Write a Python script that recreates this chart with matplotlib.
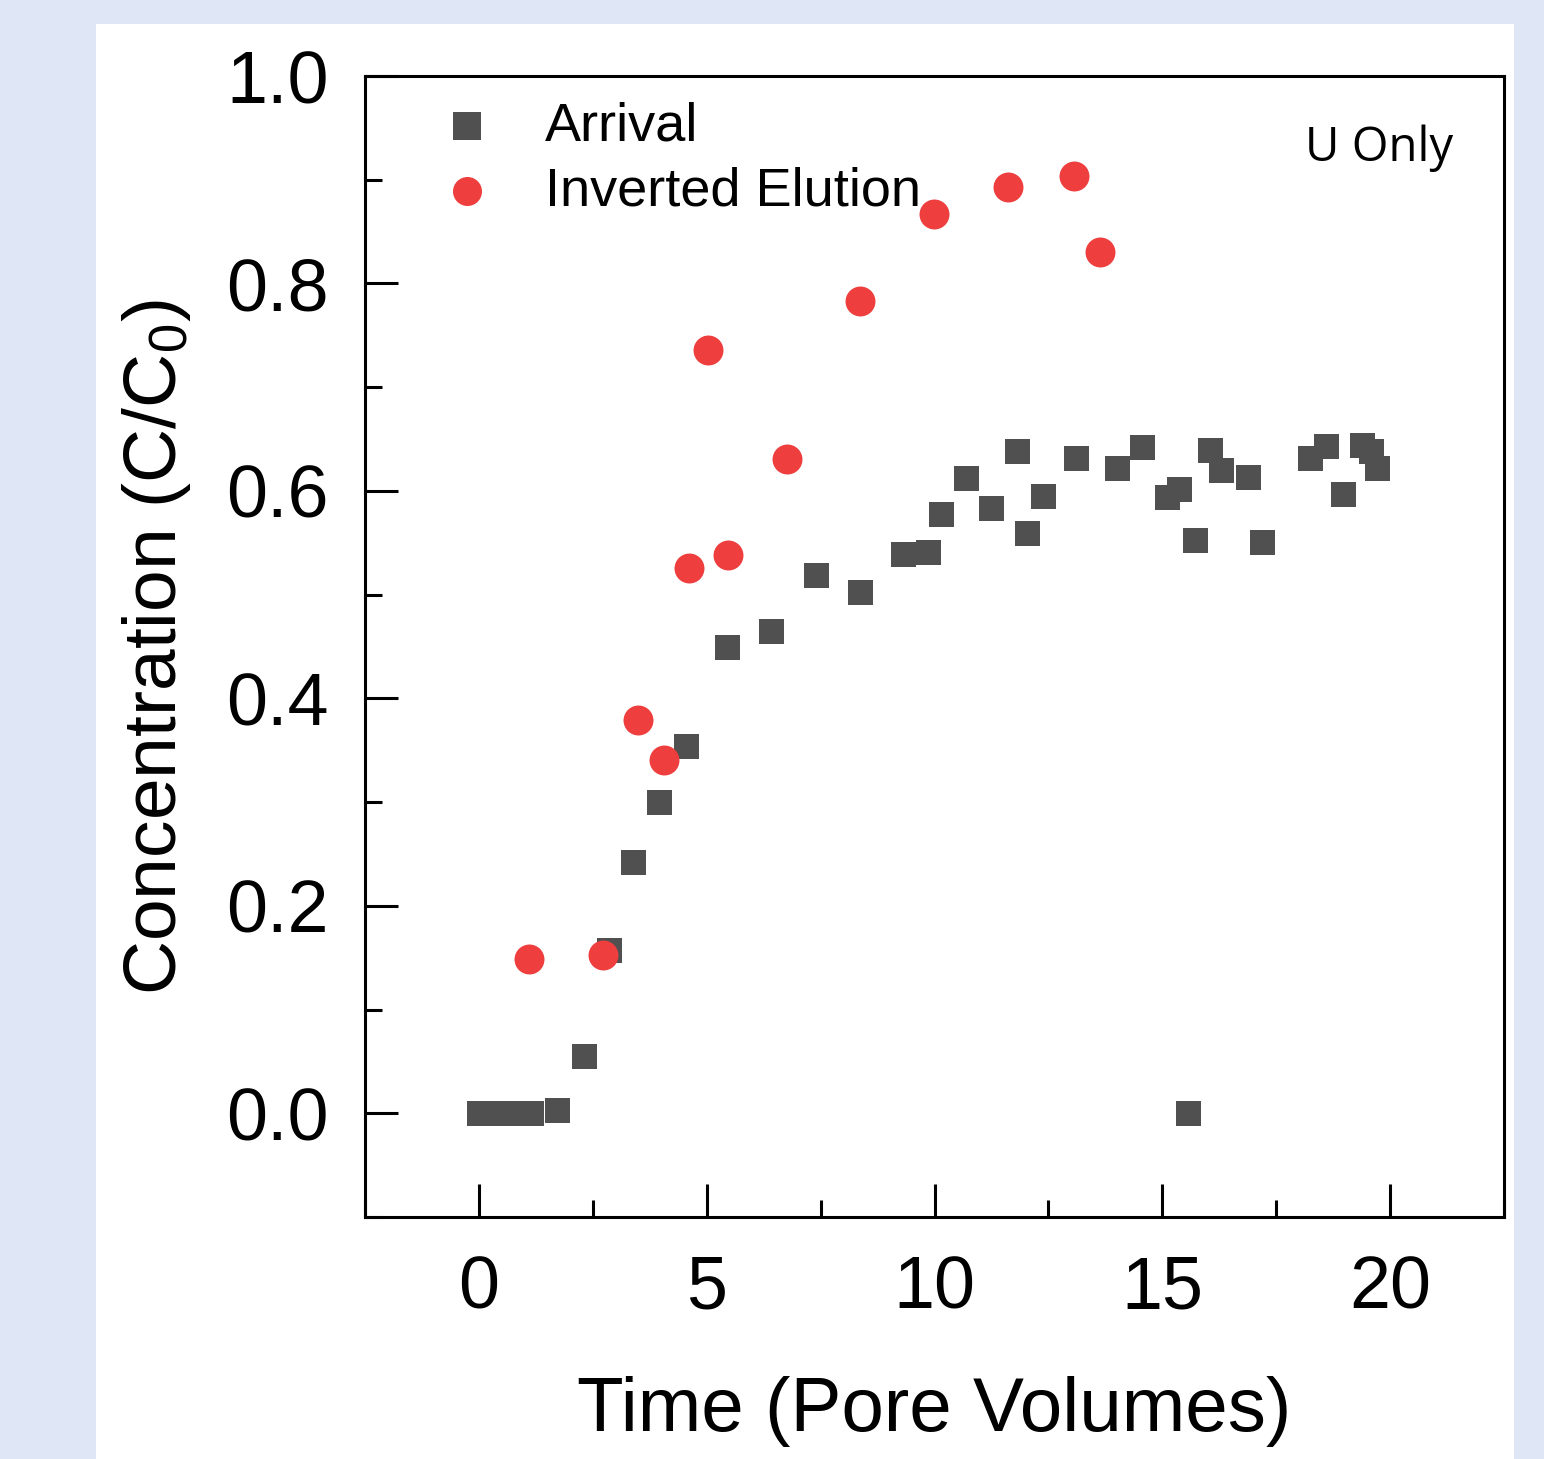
import matplotlib
matplotlib.use("Agg")
import matplotlib.pyplot as plt
from matplotlib.patches import Rectangle
from matplotlib.ticker import MultipleLocator

plt.rcParams['font.family'] = ['Liberation Sans', 'DejaVu Sans']
plt.rcParams['mathtext.fontset'] = 'custom'
plt.rcParams['mathtext.rm'] = 'Liberation Sans'
plt.rcParams['mathtext.it'] = 'Liberation Sans'

# Arrival (squares)
arrival_x = [0.0, 0.25, 0.5, 0.75, 1.0, 1.15, 1.71, 2.31, 2.85, 3.38, 3.95, 4.54, 5.44, 6.41,
             7.40, 8.36, 9.30, 9.86, 10.14, 10.69, 11.24, 11.81, 12.03, 12.38, 13.11, 14.01,
             14.56, 15.10, 15.37, 15.57, 15.72, 16.05, 16.29, 16.88, 17.19, 18.24, 18.60,
             18.97, 19.38, 19.58, 19.71]
arrival_y = [0.0, 0.0, 0.0, 0.0, 0.0, 0.0, 0.003, 0.055, 0.157, 0.242, 0.300, 0.354, 0.450, 0.465,
             0.519, 0.503, 0.539, 0.541, 0.578, 0.612, 0.584, 0.638, 0.559, 0.595, 0.632, 0.622,
             0.642, 0.594, 0.602, 0.0, 0.553, 0.639, 0.620, 0.613, 0.551, 0.632, 0.643,
             0.597, 0.644, 0.638, 0.622]

# Inverted Elution (circles)
elution_x = [1.10, 2.72, 3.49, 4.06, 4.61, 5.03, 5.47, 6.76, 8.36, 9.99, 11.61, 13.06, 13.63]
elution_y = [0.149, 0.153, 0.379, 0.341, 0.526, 0.736, 0.538, 0.631, 0.783, 0.867, 0.893, 0.904, 0.830]

x_ticks = [0, 5, 10, 15, 20]
y_ticks = [0.0, 0.2, 0.4, 0.6, 0.8, 1.0]

W, H = 1544, 1459
fig = plt.figure(figsize=(W / 100, H / 100), dpi=100)
fig.patch.set_facecolor('#dfe6f5')

bg = fig.add_axes([96 / W, 0, (1514 - 96) / W, (H - 24) / H], zorder=-5)
bg.set_axis_off()
bg.add_patch(Rectangle((0, 0), 1, 1, transform=bg.transAxes, facecolor='white',
                       edgecolor='none'))

ax = fig.add_axes([365 / W, (H - 1217) / H, (1504 - 365) / W, (1217 - 76) / H], zorder=1)
ax.set_facecolor('white')

ax.scatter(arrival_x, arrival_y, marker='s', s=324, color='#505050', linewidths=0,
           label='Arrival', zorder=3)
ax.scatter(elution_x, elution_y, marker='o', s=465, color='#ee3e3e', linewidths=0,
           label='Inverted Elution', zorder=4)

ax.set_xlim(-2.5, 22.5)
ax.set_ylim(-0.1, 1.0)
ax.set_xticks(x_ticks)
ax.set_yticks(y_ticks)
ax.set_xticklabels([str(t) for t in x_ticks])
ax.set_yticklabels([f"{t:.1f}" for t in y_ticks])
ax.xaxis.set_minor_locator(MultipleLocator(2.5))
ax.yaxis.set_minor_locator(MultipleLocator(0.1))

for sp in ax.spines.values():
    sp.set_linewidth(2.2)
    sp.set_color('black')

ax.tick_params(which='major', direction='in', length=24, width=2.2, labelsize=53,
               top=False, right=False)
ax.tick_params(which='minor', direction='in', length=12, width=2.2,
               top=False, right=False)
ax.tick_params(axis='x', which='major', pad=27)
ax.tick_params(axis='y', which='major', pad=26)
ax.set_xlabel('Time (Pore Volumes)', fontsize=55, labelpad=38)
ax.set_ylabel('Concentration (C/C$_0$)', fontsize=54, labelpad=24)

leg = ax.legend(loc='upper left', bbox_to_anchor=(0.0658, 0.978), frameon=False,
                fontsize=39, handlelength=1.0, handletextpad=0.94, labelspacing=0.28,
                borderpad=0.0, borderaxespad=0.0, scatterpoints=1)
leg.legend_handles[0].set_sizes([406])
leg.legend_handles[1].set_sizes([436])

ax.text(0.955, 0.937, 'U Only', transform=ax.transAxes, ha='right', va='center',
        fontsize=34, family=['Open Sans', 'DejaVu Sans'])

fig.savefig('out.png', dpi=100)
